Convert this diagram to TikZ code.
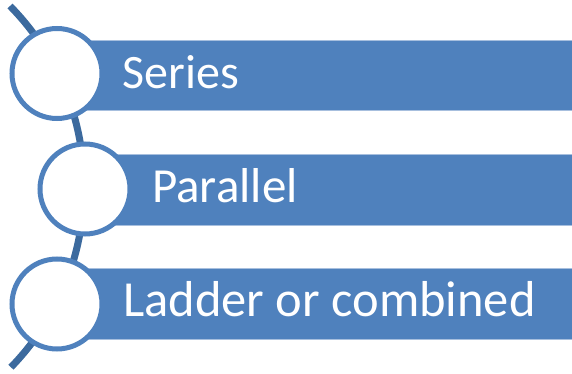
\documentclass[tikz,border=0pt]{standalone}
\usepackage{fontspec}
\setmainfont{Carlito}
\definecolor{barblue}{HTML}{4F81BD}
\definecolor{arcblue}{HTML}{3C6A9E}
\definecolor{edgeblue}{HTML}{A7BFDE}
\begin{document}
\begin{tikzpicture}[x=1pt,y=-1pt,
  bar/.style={fill=barblue,draw=edgeblue,line width=0.8pt},
  ring/.style={circle,draw=barblue,fill=white,line width=5pt,minimum size=90pt,inner sep=0pt},
  label/.style={anchor=base west,text=white,inner sep=0pt},
  spine/.style={draw=arcblue,line width=7pt}]
\useasboundingbox (0,0) rectangle (572,374);
% spine arc
\coordinate (arcTop) at (10,6);
\draw[spine] (arcTop) arc[start angle=-44.5,end angle=44.2,radius=258.4];
% bars
\path[bar] (57,40) rectangle (573,110);
\path[bar] (85,154) rectangle (573,225);
\path[bar] (57,268) rectangle (573,339);
% circles
\node[ring] (c1) at (57,73.5) {};
\node[ring] (c2) at (85,189) {};
\node[ring] (c3) at (57,304) {};
% labels
\node[label,font=\fontsize{48}{56}\selectfont] (t1) at (122.5,88.3) {Series};
\node[label,font=\fontsize{49}{56}\selectfont] (t2) at (152,202.7) {Parallel};
\node[label,font=\fontsize{50.5}{56}\selectfont] (t3) at (123,316.7) {Ladder or combined};
\end{tikzpicture}
\end{document}
